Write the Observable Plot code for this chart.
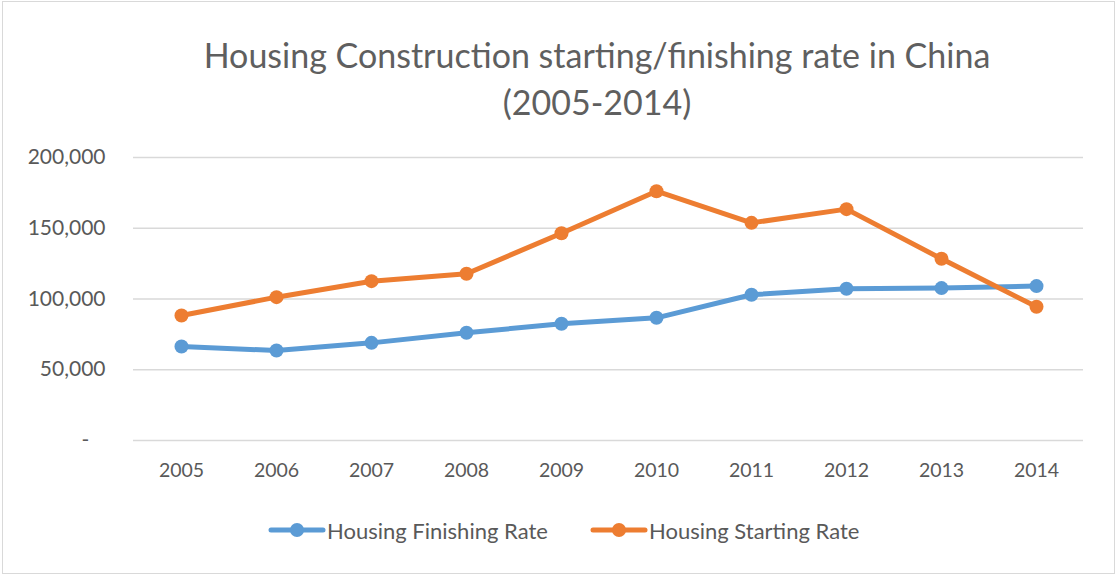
<!DOCTYPE html>
<html>
<head>
<meta charset="utf-8">
<script src="https://cdn.jsdelivr.net/npm/d3@7"></script>
<script src="https://cdn.jsdelivr.net/npm/@observablehq/plot@0.6"></script>
<style>
  html, body { margin: 0; padding: 0; background: #fff; }
  #wrap { position: relative; width: 1116px; height: 575px; overflow: hidden; font-family: Lato, "Open Sans", sans-serif; color: #595959; }
  #frame { position: absolute; left: 2px; top: 1px; width: 1111px; height: 571px; border: 1px solid #d9d9d9; pointer-events: none; }
  #title { position: absolute; left: 0; top: 31px; width: 1194px; text-align: center; font-size: 34px; line-height: 47px; color: #5f5f5f; }
  #chart { position: absolute; left: 0; top: 140px; }
  #legend { position: absolute; left: 0; top: 512px; width: 1116px; height: 36px; }
  .item { position: absolute; top: 0; display: flex; align-items: center; height: 36px; font-size: 22px; color: #595959; }
  .item svg { margin-right: 1px; }
</style>
</head>
<body>
<div id="wrap">
  <div id="title">Housing Construction starting/finishing rate in China<br>(2005-2014)</div>
  <div id="chart"></div>
  <div id="legend"></div>
  <div id="frame"></div>
</div>
<script>
const years = ["2005","2006","2007","2008","2009","2010","2011","2012","2013","2014"];
const finishing = [66400, 63600, 69000, 76100, 82500, 86700, 103000, 107200, 107700, 109100];
const starting  = [88300, 101300, 112600, 117800, 146500, 176200, 153800, 163500, 128400, 94500];
const yTicks = [0, 50000, 100000, 150000, 200000];
const seriesNames = ["Housing Finishing Rate", "Housing Starting Rate"];
const seriesColors = ["#5B9BD5", "#ED7D31"];

const data = [];
years.forEach((y, i) => {
  data.push({year: y, value: finishing[i], series: seriesNames[0]});
  data.push({year: y, value: starting[i], series: seriesNames[1]});
});

const fmt = d => d === 0 ? "-\u00a0\u00a0\u00a0" : d3.format(",")(d);

const plot = Plot.plot({
  width: 1116,
  height: 360,
  marginLeft: 133,
  marginRight: 33,
  marginTop: 17,
  marginBottom: 60,
  style: {fontFamily: "Lato, 'Open Sans', sans-serif", color: "#595959", background: "transparent"},
  x: {type: "point", domain: years, padding: 0.5, label: null},
  y: {domain: [0, 200000], label: null},
  color: {domain: seriesNames, range: seriesColors},
  marks: [
    Plot.gridY(yTicks, {stroke: "#d9d9d9", strokeOpacity: 1, strokeWidth: 1.5}),
    Plot.axisY(yTicks, {tickSize: 0, tickPadding: 28, tickFormat: fmt, fontSize: 21, fill: "#595959", label: null}),
    Plot.axisX({tickSize: 0, tickPadding: 23, fontSize: 19.5, fill: "#595959", label: null}),
    Plot.line(data, {x: "year", y: "value", stroke: "series", strokeWidth: 5, strokeLinejoin: "round", strokeLinecap: "round"}),
    Plot.dot(data, {x: "year", y: "value", fill: "series", r: 7})
  ]
});
document.getElementById("chart").appendChild(plot);

const legend = document.getElementById("legend");
const lefts = [268, 590];
seriesNames.forEach((name, i) => {
  const item = document.createElement("div");
  item.className = "item";
  item.style.left = lefts[i] + "px";
  item.innerHTML = `<svg width="58" height="16"><line x1="3" y1="8" x2="55" y2="8" stroke="${seriesColors[i]}" stroke-width="5" stroke-linecap="round"/><circle cx="29" cy="8" r="7" fill="${seriesColors[i]}"/></svg><span>${name}</span>`;
  legend.appendChild(item);
});
</script>
</body>
</html>
